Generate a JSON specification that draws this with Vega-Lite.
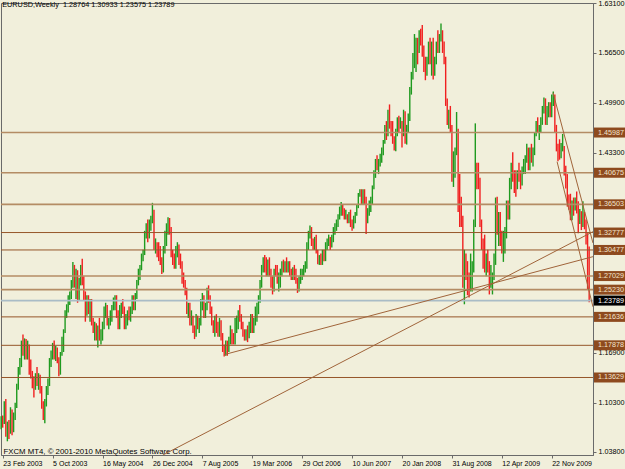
{
"$schema":"https://vega.github.io/schema/vega-lite/v6.json",
"width":592,"height":452,
"autosize":"none",
"padding":{"left":1,"top":3,"right":32,"bottom":14},
"background":"#f1efdb",
"config":{"view":{"stroke":"#6a6a6a","strokeWidth":1},"font":"Liberation Sans",
 "axis":{"domainColor":"#6a6a6a","tickColor":"#6a6a6a","labelColor":"#000000","labelFont":"Liberation Sans","labelFontSize":7.2,"grid":false}},
"title":{"text":"EURUSD,Weekly\u00a0 1.28764 1.30933 1.23575 1.23789","anchor":"start","orient":"top","offset":-9,"dx":2,"fontSize":7.3,"fontWeight":"normal","font":"Liberation Sans","color":"#000000"},
"datasets":{
"bars":[
{"d":"2003-02-16","o":1.077,"h":1.085,"l":1.068,"c":1.081},
{"d":"2003-02-23","o":1.081,"h":1.086,"l":1.070,"c":1.078},
{"d":"2003-03-02","o":1.078,"h":1.105,"l":1.075,"c":1.100},
{"d":"2003-03-09","o":1.100,"h":1.108,"l":1.058,"c":1.062},
{"d":"2003-03-16","o":1.062,"h":1.078,"l":1.052,"c":1.072},
{"d":"2003-03-23","o":1.072,"h":1.080,"l":1.055,"c":1.066},
{"d":"2003-03-30","o":1.066,"h":1.097,"l":1.062,"c":1.088},
{"d":"2003-04-06","o":1.088,"h":1.094,"l":1.060,"c":1.068},
{"d":"2003-04-13","o":1.068,"h":1.090,"l":1.064,"c":1.086},
{"d":"2003-04-20","o":1.086,"h":1.103,"l":1.080,"c":1.100},
{"d":"2003-04-27","o":1.100,"h":1.128,"l":1.096,"c":1.124},
{"d":"2003-05-04","o":1.124,"h":1.150,"l":1.120,"c":1.146},
{"d":"2003-05-11","o":1.146,"h":1.162,"l":1.140,"c":1.156},
{"d":"2003-05-18","o":1.156,"h":1.185,"l":1.150,"c":1.180},
{"d":"2003-05-25","o":1.180,"h":1.193,"l":1.165,"c":1.170},
{"d":"2003-06-01","o":1.170,"h":1.188,"l":1.160,"c":1.182},
{"d":"2003-06-08","o":1.182,"h":1.187,"l":1.160,"c":1.165},
{"d":"2003-06-15","o":1.165,"h":1.185,"l":1.160,"c":1.178},
{"d":"2003-06-22","o":1.178,"h":1.180,"l":1.140,"c":1.145},
{"d":"2003-06-29","o":1.145,"h":1.160,"l":1.135,"c":1.142},
{"d":"2003-07-06","o":1.142,"h":1.145,"l":1.122,"c":1.128},
{"d":"2003-07-13","o":1.128,"h":1.138,"l":1.110,"c":1.124},
{"d":"2003-07-20","o":1.124,"h":1.142,"l":1.120,"c":1.135},
{"d":"2003-07-27","o":1.135,"h":1.150,"l":1.125,"c":1.130},
{"d":"2003-08-03","o":1.130,"h":1.142,"l":1.120,"c":1.138},
{"d":"2003-08-10","o":1.138,"h":1.140,"l":1.115,"c":1.120},
{"d":"2003-08-17","o":1.120,"h":1.125,"l":1.095,"c":1.100},
{"d":"2003-08-24","o":1.100,"h":1.105,"l":1.080,"c":1.085},
{"d":"2003-08-31","o":1.085,"h":1.108,"l":1.076,"c":1.102},
{"d":"2003-09-07","o":1.102,"h":1.125,"l":1.098,"c":1.120},
{"d":"2003-09-14","o":1.120,"h":1.135,"l":1.113,"c":1.130},
{"d":"2003-09-21","o":1.130,"h":1.162,"l":1.125,"c":1.155},
{"d":"2003-09-28","o":1.155,"h":1.172,"l":1.150,"c":1.168},
{"d":"2003-10-05","o":1.168,"h":1.182,"l":1.160,"c":1.176},
{"d":"2003-10-12","o":1.176,"h":1.185,"l":1.160,"c":1.165},
{"d":"2003-10-19","o":1.165,"h":1.178,"l":1.158,"c":1.172},
{"d":"2003-10-26","o":1.172,"h":1.176,"l":1.155,"c":1.160},
{"d":"2003-11-02","o":1.160,"h":1.163,"l":1.138,"c":1.145},
{"d":"2003-11-09","o":1.145,"h":1.170,"l":1.140,"c":1.168},
{"d":"2003-11-16","o":1.168,"h":1.190,"l":1.165,"c":1.185},
{"d":"2003-11-23","o":1.185,"h":1.200,"l":1.170,"c":1.198},
{"d":"2003-11-30","o":1.198,"h":1.225,"l":1.195,"c":1.220},
{"d":"2003-12-07","o":1.220,"h":1.233,"l":1.215,"c":1.230},
{"d":"2003-12-14","o":1.230,"h":1.245,"l":1.222,"c":1.240},
{"d":"2003-12-21","o":1.240,"h":1.250,"l":1.232,"c":1.245},
{"d":"2003-12-28","o":1.245,"h":1.265,"l":1.240,"c":1.260},
{"d":"2004-01-04","o":1.260,"h":1.289,"l":1.255,"c":1.275},
{"d":"2004-01-11","o":1.275,"h":1.285,"l":1.255,"c":1.262},
{"d":"2004-01-18","o":1.262,"h":1.280,"l":1.240,"c":1.270},
{"d":"2004-01-25","o":1.270,"h":1.278,"l":1.235,"c":1.242},
{"d":"2004-02-01","o":1.242,"h":1.268,"l":1.238,"c":1.262},
{"d":"2004-02-08","o":1.262,"h":1.285,"l":1.258,"c":1.280},
{"d":"2004-02-15","o":1.280,"h":1.293,"l":1.258,"c":1.265},
{"d":"2004-02-22","o":1.265,"h":1.270,"l":1.238,"c":1.245},
{"d":"2004-02-29","o":1.245,"h":1.250,"l":1.210,"c":1.220},
{"d":"2004-03-07","o":1.220,"h":1.245,"l":1.218,"c":1.235},
{"d":"2004-03-14","o":1.235,"h":1.245,"l":1.220,"c":1.228},
{"d":"2004-03-21","o":1.228,"h":1.240,"l":1.210,"c":1.235},
{"d":"2004-03-28","o":1.235,"h":1.240,"l":1.205,"c":1.210},
{"d":"2004-04-04","o":1.210,"h":1.215,"l":1.195,"c":1.200},
{"d":"2004-04-11","o":1.200,"h":1.210,"l":1.185,"c":1.205},
{"d":"2004-04-18","o":1.205,"h":1.208,"l":1.185,"c":1.190},
{"d":"2004-04-25","o":1.190,"h":1.205,"l":1.176,"c":1.198},
{"d":"2004-05-02","o":1.198,"h":1.215,"l":1.185,"c":1.190},
{"d":"2004-05-09","o":1.190,"h":1.200,"l":1.180,"c":1.195},
{"d":"2004-05-16","o":1.195,"h":1.210,"l":1.185,"c":1.205},
{"d":"2004-05-23","o":1.205,"h":1.230,"l":1.200,"c":1.225},
{"d":"2004-05-30","o":1.225,"h":1.235,"l":1.215,"c":1.230},
{"d":"2004-06-06","o":1.230,"h":1.232,"l":1.205,"c":1.210},
{"d":"2004-06-13","o":1.210,"h":1.215,"l":1.200,"c":1.212},
{"d":"2004-06-20","o":1.212,"h":1.225,"l":1.205,"c":1.215},
{"d":"2004-06-27","o":1.215,"h":1.232,"l":1.210,"c":1.228},
{"d":"2004-07-04","o":1.228,"h":1.242,"l":1.225,"c":1.235},
{"d":"2004-07-11","o":1.235,"h":1.245,"l":1.225,"c":1.240},
{"d":"2004-07-18","o":1.240,"h":1.245,"l":1.215,"c":1.220},
{"d":"2004-07-25","o":1.220,"h":1.225,"l":1.200,"c":1.205},
{"d":"2004-08-01","o":1.205,"h":1.232,"l":1.200,"c":1.228},
{"d":"2004-08-08","o":1.228,"h":1.235,"l":1.215,"c":1.230},
{"d":"2004-08-15","o":1.230,"h":1.240,"l":1.220,"c":1.225},
{"d":"2004-08-22","o":1.225,"h":1.230,"l":1.200,"c":1.205},
{"d":"2004-08-29","o":1.205,"h":1.220,"l":1.200,"c":1.215},
{"d":"2004-09-05","o":1.215,"h":1.225,"l":1.205,"c":1.220},
{"d":"2004-09-12","o":1.220,"h":1.230,"l":1.212,"c":1.215},
{"d":"2004-09-19","o":1.215,"h":1.230,"l":1.210,"c":1.225},
{"d":"2004-09-26","o":1.225,"h":1.245,"l":1.220,"c":1.240},
{"d":"2004-10-03","o":1.240,"h":1.245,"l":1.225,"c":1.230},
{"d":"2004-10-10","o":1.230,"h":1.248,"l":1.225,"c":1.245},
{"d":"2004-10-17","o":1.245,"h":1.265,"l":1.240,"c":1.262},
{"d":"2004-10-24","o":1.262,"h":1.280,"l":1.258,"c":1.275},
{"d":"2004-10-31","o":1.275,"h":1.285,"l":1.265,"c":1.282},
{"d":"2004-11-07","o":1.282,"h":1.300,"l":1.278,"c":1.295},
{"d":"2004-11-14","o":1.295,"h":1.305,"l":1.290,"c":1.300},
{"d":"2004-11-21","o":1.300,"h":1.330,"l":1.298,"c":1.325},
{"d":"2004-11-28","o":1.325,"h":1.340,"l":1.320,"c":1.335},
{"d":"2004-12-05","o":1.335,"h":1.345,"l":1.315,"c":1.325},
{"d":"2004-12-12","o":1.325,"h":1.345,"l":1.320,"c":1.340},
{"d":"2004-12-19","o":1.340,"h":1.350,"l":1.330,"c":1.345},
{"d":"2004-12-26","o":1.345,"h":1.367,"l":1.340,"c":1.355},
{"d":"2005-01-02","o":1.355,"h":1.358,"l":1.305,"c":1.310},
{"d":"2005-01-09","o":1.310,"h":1.320,"l":1.300,"c":1.310},
{"d":"2005-01-16","o":1.310,"h":1.315,"l":1.295,"c":1.305},
{"d":"2005-01-23","o":1.305,"h":1.315,"l":1.290,"c":1.302},
{"d":"2005-01-30","o":1.302,"h":1.310,"l":1.285,"c":1.290},
{"d":"2005-02-06","o":1.290,"h":1.295,"l":1.273,"c":1.278},
{"d":"2005-02-13","o":1.278,"h":1.310,"l":1.275,"c":1.305},
{"d":"2005-02-20","o":1.305,"h":1.330,"l":1.300,"c":1.325},
{"d":"2005-02-27","o":1.325,"h":1.340,"l":1.310,"c":1.335},
{"d":"2005-03-06","o":1.335,"h":1.348,"l":1.325,"c":1.340},
{"d":"2005-03-13","o":1.340,"h":1.347,"l":1.325,"c":1.330},
{"d":"2005-03-20","o":1.330,"h":1.335,"l":1.295,"c":1.300},
{"d":"2005-03-27","o":1.300,"h":1.305,"l":1.285,"c":1.295},
{"d":"2005-04-03","o":1.295,"h":1.300,"l":1.280,"c":1.285},
{"d":"2005-04-10","o":1.285,"h":1.310,"l":1.280,"c":1.305},
{"d":"2005-04-17","o":1.305,"h":1.315,"l":1.295,"c":1.310},
{"d":"2005-04-24","o":1.310,"h":1.312,"l":1.285,"c":1.290},
{"d":"2005-05-01","o":1.290,"h":1.300,"l":1.280,"c":1.285},
{"d":"2005-05-08","o":1.285,"h":1.290,"l":1.260,"c":1.265},
{"d":"2005-05-15","o":1.265,"h":1.275,"l":1.255,"c":1.260},
{"d":"2005-05-22","o":1.260,"h":1.265,"l":1.245,"c":1.250},
{"d":"2005-05-29","o":1.250,"h":1.255,"l":1.220,"c":1.225},
{"d":"2005-06-05","o":1.225,"h":1.235,"l":1.215,"c":1.230},
{"d":"2005-06-12","o":1.230,"h":1.235,"l":1.205,"c":1.210},
{"d":"2005-06-19","o":1.210,"h":1.225,"l":1.205,"c":1.215},
{"d":"2005-06-26","o":1.215,"h":1.218,"l":1.195,"c":1.200},
{"d":"2005-07-03","o":1.200,"h":1.205,"l":1.187,"c":1.192},
{"d":"2005-07-10","o":1.192,"h":1.220,"l":1.190,"c":1.215},
{"d":"2005-07-17","o":1.215,"h":1.218,"l":1.200,"c":1.205},
{"d":"2005-07-24","o":1.205,"h":1.215,"l":1.195,"c":1.210},
{"d":"2005-07-31","o":1.210,"h":1.240,"l":1.205,"c":1.235},
{"d":"2005-08-07","o":1.235,"h":1.248,"l":1.225,"c":1.240},
{"d":"2005-08-14","o":1.240,"h":1.245,"l":1.215,"c":1.220},
{"d":"2005-08-21","o":1.220,"h":1.235,"l":1.215,"c":1.230},
{"d":"2005-08-28","o":1.230,"h":1.255,"l":1.225,"c":1.245},
{"d":"2005-09-04","o":1.245,"h":1.258,"l":1.235,"c":1.240},
{"d":"2005-09-11","o":1.240,"h":1.245,"l":1.220,"c":1.225},
{"d":"2005-09-18","o":1.225,"h":1.230,"l":1.205,"c":1.210},
{"d":"2005-09-25","o":1.210,"h":1.212,"l":1.195,"c":1.200},
{"d":"2005-10-02","o":1.200,"h":1.218,"l":1.190,"c":1.215},
{"d":"2005-10-09","o":1.215,"h":1.220,"l":1.195,"c":1.205},
{"d":"2005-10-16","o":1.205,"h":1.210,"l":1.190,"c":1.195},
{"d":"2005-10-23","o":1.195,"h":1.215,"l":1.190,"c":1.210},
{"d":"2005-10-30","o":1.210,"h":1.212,"l":1.185,"c":1.190},
{"d":"2005-11-06","o":1.190,"h":1.195,"l":1.170,"c":1.175},
{"d":"2005-11-13","o":1.175,"h":1.180,"l":1.164,"c":1.170},
{"d":"2005-11-20","o":1.170,"h":1.185,"l":1.165,"c":1.180},
{"d":"2005-11-27","o":1.180,"h":1.185,"l":1.165,"c":1.175},
{"d":"2005-12-04","o":1.175,"h":1.190,"l":1.170,"c":1.185},
{"d":"2005-12-11","o":1.185,"h":1.205,"l":1.180,"c":1.198},
{"d":"2005-12-18","o":1.198,"h":1.200,"l":1.180,"c":1.190},
{"d":"2005-12-25","o":1.190,"h":1.195,"l":1.180,"c":1.185},
{"d":"2006-01-01","o":1.185,"h":1.215,"l":1.180,"c":1.210},
{"d":"2006-01-08","o":1.210,"h":1.218,"l":1.195,"c":1.210},
{"d":"2006-01-15","o":1.210,"h":1.225,"l":1.200,"c":1.220},
{"d":"2006-01-22","o":1.220,"h":1.232,"l":1.210,"c":1.215},
{"d":"2006-01-29","o":1.215,"h":1.220,"l":1.200,"c":1.205},
{"d":"2006-02-05","o":1.205,"h":1.210,"l":1.190,"c":1.195},
{"d":"2006-02-12","o":1.195,"h":1.200,"l":1.185,"c":1.190},
{"d":"2006-02-19","o":1.190,"h":1.200,"l":1.185,"c":1.195},
{"d":"2006-02-26","o":1.195,"h":1.205,"l":1.183,"c":1.190},
{"d":"2006-03-05","o":1.190,"h":1.210,"l":1.188,"c":1.200},
{"d":"2006-03-12","o":1.200,"h":1.220,"l":1.195,"c":1.218},
{"d":"2006-03-19","o":1.218,"h":1.220,"l":1.195,"c":1.200},
{"d":"2006-03-26","o":1.200,"h":1.215,"l":1.195,"c":1.210},
{"d":"2006-04-02","o":1.210,"h":1.230,"l":1.205,"c":1.225},
{"d":"2006-04-09","o":1.225,"h":1.235,"l":1.210,"c":1.225},
{"d":"2006-04-16","o":1.225,"h":1.245,"l":1.220,"c":1.240},
{"d":"2006-04-23","o":1.240,"h":1.265,"l":1.235,"c":1.260},
{"d":"2006-04-30","o":1.260,"h":1.285,"l":1.255,"c":1.280},
{"d":"2006-05-07","o":1.280,"h":1.295,"l":1.275,"c":1.290},
{"d":"2006-05-14","o":1.290,"h":1.298,"l":1.275,"c":1.285},
{"d":"2006-05-21","o":1.285,"h":1.295,"l":1.270,"c":1.280},
{"d":"2006-05-28","o":1.280,"h":1.292,"l":1.270,"c":1.290},
{"d":"2006-06-04","o":1.290,"h":1.295,"l":1.270,"c":1.275},
{"d":"2006-06-11","o":1.275,"h":1.280,"l":1.255,"c":1.265},
{"d":"2006-06-18","o":1.265,"h":1.270,"l":1.246,"c":1.255},
{"d":"2006-06-25","o":1.255,"h":1.280,"l":1.250,"c":1.278},
{"d":"2006-07-02","o":1.278,"h":1.285,"l":1.270,"c":1.275},
{"d":"2006-07-09","o":1.275,"h":1.285,"l":1.260,"c":1.265},
{"d":"2006-07-16","o":1.265,"h":1.275,"l":1.250,"c":1.265},
{"d":"2006-07-23","o":1.265,"h":1.280,"l":1.255,"c":1.275},
{"d":"2006-07-30","o":1.275,"h":1.290,"l":1.270,"c":1.285},
{"d":"2006-08-06","o":1.285,"h":1.292,"l":1.275,"c":1.280},
{"d":"2006-08-13","o":1.280,"h":1.290,"l":1.275,"c":1.285},
{"d":"2006-08-20","o":1.285,"h":1.295,"l":1.275,"c":1.280},
{"d":"2006-08-27","o":1.280,"h":1.290,"l":1.275,"c":1.285},
{"d":"2006-09-03","o":1.285,"h":1.290,"l":1.270,"c":1.275},
{"d":"2006-09-10","o":1.275,"h":1.280,"l":1.265,"c":1.270},
{"d":"2006-09-17","o":1.270,"h":1.282,"l":1.265,"c":1.280},
{"d":"2006-09-24","o":1.280,"h":1.285,"l":1.265,"c":1.270},
{"d":"2006-10-01","o":1.270,"h":1.280,"l":1.260,"c":1.265},
{"d":"2006-10-08","o":1.265,"h":1.268,"l":1.248,"c":1.255},
{"d":"2006-10-15","o":1.255,"h":1.270,"l":1.250,"c":1.265},
{"d":"2006-10-22","o":1.265,"h":1.280,"l":1.260,"c":1.275},
{"d":"2006-10-29","o":1.275,"h":1.280,"l":1.265,"c":1.275},
{"d":"2006-11-05","o":1.275,"h":1.285,"l":1.270,"c":1.280},
{"d":"2006-11-12","o":1.280,"h":1.290,"l":1.275,"c":1.285},
{"d":"2006-11-19","o":1.285,"h":1.315,"l":1.280,"c":1.310},
{"d":"2006-11-26","o":1.310,"h":1.330,"l":1.305,"c":1.325},
{"d":"2006-12-03","o":1.325,"h":1.337,"l":1.320,"c":1.330},
{"d":"2006-12-10","o":1.330,"h":1.335,"l":1.310,"c":1.315},
{"d":"2006-12-17","o":1.315,"h":1.320,"l":1.305,"c":1.310},
{"d":"2006-12-24","o":1.310,"h":1.322,"l":1.305,"c":1.320},
{"d":"2006-12-31","o":1.320,"h":1.325,"l":1.300,"c":1.300},
{"d":"2007-01-07","o":1.300,"h":1.305,"l":1.286,"c":1.290},
{"d":"2007-01-14","o":1.290,"h":1.298,"l":1.285,"c":1.295},
{"d":"2007-01-21","o":1.295,"h":1.300,"l":1.285,"c":1.290},
{"d":"2007-01-28","o":1.290,"h":1.305,"l":1.285,"c":1.300},
{"d":"2007-02-04","o":1.300,"h":1.305,"l":1.290,"c":1.295},
{"d":"2007-02-11","o":1.295,"h":1.315,"l":1.290,"c":1.312},
{"d":"2007-02-18","o":1.312,"h":1.320,"l":1.305,"c":1.315},
{"d":"2007-02-25","o":1.315,"h":1.325,"l":1.310,"c":1.320},
{"d":"2007-03-04","o":1.320,"h":1.322,"l":1.305,"c":1.310},
{"d":"2007-03-11","o":1.310,"h":1.325,"l":1.308,"c":1.320},
{"d":"2007-03-18","o":1.320,"h":1.335,"l":1.315,"c":1.330},
{"d":"2007-03-25","o":1.330,"h":1.340,"l":1.325,"c":1.335},
{"d":"2007-04-01","o":1.335,"h":1.345,"l":1.330,"c":1.340},
{"d":"2007-04-08","o":1.340,"h":1.352,"l":1.335,"c":1.350},
{"d":"2007-04-15","o":1.350,"h":1.362,"l":1.345,"c":1.360},
{"d":"2007-04-22","o":1.360,"h":1.368,"l":1.350,"c":1.360},
{"d":"2007-04-29","o":1.360,"h":1.365,"l":1.350,"c":1.352},
{"d":"2007-05-06","o":1.352,"h":1.360,"l":1.345,"c":1.350},
{"d":"2007-05-13","o":1.350,"h":1.358,"l":1.345,"c":1.350},
{"d":"2007-05-20","o":1.350,"h":1.352,"l":1.340,"c":1.345},
{"d":"2007-05-27","o":1.345,"h":1.355,"l":1.340,"c":1.350},
{"d":"2007-06-03","o":1.350,"h":1.358,"l":1.335,"c":1.340},
{"d":"2007-06-10","o":1.340,"h":1.345,"l":1.330,"c":1.335},
{"d":"2007-06-17","o":1.335,"h":1.350,"l":1.333,"c":1.345},
{"d":"2007-06-24","o":1.345,"h":1.355,"l":1.340,"c":1.352},
{"d":"2007-07-01","o":1.352,"h":1.365,"l":1.350,"c":1.362},
{"d":"2007-07-08","o":1.362,"h":1.380,"l":1.360,"c":1.378},
{"d":"2007-07-15","o":1.378,"h":1.385,"l":1.375,"c":1.380},
{"d":"2007-07-22","o":1.380,"h":1.385,"l":1.365,"c":1.370},
{"d":"2007-07-29","o":1.370,"h":1.385,"l":1.365,"c":1.380},
{"d":"2007-08-05","o":1.380,"h":1.385,"l":1.365,"c":1.370},
{"d":"2007-08-12","o":1.370,"h":1.375,"l":1.326,"c":1.345},
{"d":"2007-08-19","o":1.345,"h":1.360,"l":1.340,"c":1.355},
{"d":"2007-08-26","o":1.355,"h":1.370,"l":1.350,"c":1.365},
{"d":"2007-09-02","o":1.365,"h":1.375,"l":1.355,"c":1.370},
{"d":"2007-09-09","o":1.370,"h":1.390,"l":1.365,"c":1.388},
{"d":"2007-09-16","o":1.388,"h":1.410,"l":1.385,"c":1.405},
{"d":"2007-09-23","o":1.405,"h":1.425,"l":1.400,"c":1.420},
{"d":"2007-09-30","o":1.420,"h":1.430,"l":1.410,"c":1.415},
{"d":"2007-10-07","o":1.415,"h":1.425,"l":1.405,"c":1.420},
{"d":"2007-10-14","o":1.420,"h":1.432,"l":1.415,"c":1.425},
{"d":"2007-10-21","o":1.425,"h":1.440,"l":1.420,"c":1.435},
{"d":"2007-10-28","o":1.435,"h":1.450,"l":1.430,"c":1.448},
{"d":"2007-11-04","o":1.448,"h":1.470,"l":1.445,"c":1.465},
{"d":"2007-11-11","o":1.465,"h":1.475,"l":1.450,"c":1.460},
{"d":"2007-11-18","o":1.460,"h":1.490,"l":1.455,"c":1.482},
{"d":"2007-11-25","o":1.482,"h":1.497,"l":1.465,"c":1.470},
{"d":"2007-12-02","o":1.470,"h":1.475,"l":1.455,"c":1.465},
{"d":"2007-12-09","o":1.465,"h":1.475,"l":1.445,"c":1.450},
{"d":"2007-12-16","o":1.450,"h":1.455,"l":1.436,"c":1.440},
{"d":"2007-12-23","o":1.440,"h":1.465,"l":1.435,"c":1.460},
{"d":"2007-12-30","o":1.460,"h":1.480,"l":1.455,"c":1.475},
{"d":"2008-01-06","o":1.475,"h":1.482,"l":1.460,"c":1.470},
{"d":"2008-01-13","o":1.470,"h":1.480,"l":1.465,"c":1.470},
{"d":"2008-01-20","o":1.470,"h":1.475,"l":1.440,"c":1.460},
{"d":"2008-01-27","o":1.460,"h":1.490,"l":1.455,"c":1.485},
{"d":"2008-02-03","o":1.485,"h":1.488,"l":1.445,"c":1.450},
{"d":"2008-02-10","o":1.450,"h":1.470,"l":1.444,"c":1.465},
{"d":"2008-02-17","o":1.465,"h":1.485,"l":1.460,"c":1.480},
{"d":"2008-02-24","o":1.480,"h":1.520,"l":1.475,"c":1.515},
{"d":"2008-03-02","o":1.515,"h":1.540,"l":1.510,"c":1.535},
{"d":"2008-03-09","o":1.535,"h":1.565,"l":1.530,"c":1.560},
{"d":"2008-03-16","o":1.560,"h":1.590,"l":1.545,"c":1.565},
{"d":"2008-03-23","o":1.565,"h":1.585,"l":1.540,"c":1.580},
{"d":"2008-03-30","o":1.580,"h":1.585,"l":1.550,"c":1.570},
{"d":"2008-04-06","o":1.570,"h":1.595,"l":1.565,"c":1.590},
{"d":"2008-04-13","o":1.590,"h":1.597,"l":1.575,"c":1.580},
{"d":"2008-04-20","o":1.580,"h":1.602,"l":1.560,"c":1.565},
{"d":"2008-04-27","o":1.565,"h":1.575,"l":1.540,"c":1.550},
{"d":"2008-05-04","o":1.550,"h":1.560,"l":1.529,"c":1.545},
{"d":"2008-05-11","o":1.545,"h":1.560,"l":1.535,"c":1.555},
{"d":"2008-05-18","o":1.555,"h":1.580,"l":1.550,"c":1.575},
{"d":"2008-05-25","o":1.575,"h":1.585,"l":1.550,"c":1.555},
{"d":"2008-06-01","o":1.555,"h":1.580,"l":1.535,"c":1.575},
{"d":"2008-06-08","o":1.575,"h":1.585,"l":1.530,"c":1.545},
{"d":"2008-06-15","o":1.545,"h":1.560,"l":1.535,"c":1.555},
{"d":"2008-06-22","o":1.555,"h":1.580,"l":1.550,"c":1.575},
{"d":"2008-06-29","o":1.575,"h":1.595,"l":1.565,"c":1.570},
{"d":"2008-07-06","o":1.570,"h":1.590,"l":1.565,"c":1.585},
{"d":"2008-07-13","o":1.585,"h":1.604,"l":1.580,"c":1.590},
{"d":"2008-07-20","o":1.590,"h":1.595,"l":1.565,"c":1.570},
{"d":"2008-07-27","o":1.570,"h":1.580,"l":1.550,"c":1.555},
{"d":"2008-08-03","o":1.555,"h":1.560,"l":1.495,"c":1.500},
{"d":"2008-08-10","o":1.500,"h":1.505,"l":1.470,"c":1.475},
{"d":"2008-08-17","o":1.475,"h":1.490,"l":1.465,"c":1.485},
{"d":"2008-08-24","o":1.485,"h":1.495,"l":1.460,"c":1.465},
{"d":"2008-08-31","o":1.465,"h":1.470,"l":1.395,"c":1.400},
{"d":"2008-09-07","o":1.400,"h":1.435,"l":1.388,"c":1.430},
{"d":"2008-09-14","o":1.430,"h":1.440,"l":1.400,"c":1.435},
{"d":"2008-09-21","o":1.435,"h":1.487,"l":1.430,"c":1.460},
{"d":"2008-09-28","o":1.460,"h":1.465,"l":1.355,"c":1.360},
{"d":"2008-10-05","o":1.360,"h":1.405,"l":1.335,"c":1.345},
{"d":"2008-10-12","o":1.345,"h":1.375,"l":1.335,"c":1.340},
{"d":"2008-10-19","o":1.340,"h":1.350,"l":1.255,"c":1.265},
{"d":"2008-10-26","o":1.265,"h":1.305,"l":1.233,"c":1.275},
{"d":"2008-11-02","o":1.275,"h":1.300,"l":1.265,"c":1.270},
{"d":"2008-11-09","o":1.270,"h":1.290,"l":1.245,"c":1.260},
{"d":"2008-11-16","o":1.260,"h":1.275,"l":1.242,"c":1.255},
{"d":"2008-11-23","o":1.255,"h":1.300,"l":1.250,"c":1.270},
{"d":"2008-11-30","o":1.270,"h":1.290,"l":1.250,"c":1.280},
{"d":"2008-12-07","o":1.280,"h":1.345,"l":1.275,"c":1.340},
{"d":"2008-12-14","o":1.340,"h":1.472,"l":1.335,"c":1.410},
{"d":"2008-12-21","o":1.410,"h":1.420,"l":1.385,"c":1.400},
{"d":"2008-12-28","o":1.400,"h":1.420,"l":1.385,"c":1.395},
{"d":"2009-01-04","o":1.395,"h":1.400,"l":1.335,"c":1.340},
{"d":"2009-01-11","o":1.340,"h":1.345,"l":1.305,"c":1.310},
{"d":"2009-01-18","o":1.310,"h":1.320,"l":1.280,"c":1.295},
{"d":"2009-01-25","o":1.295,"h":1.325,"l":1.275,"c":1.280},
{"d":"2009-02-01","o":1.280,"h":1.300,"l":1.270,"c":1.290},
{"d":"2009-02-08","o":1.290,"h":1.305,"l":1.275,"c":1.285},
{"d":"2009-02-15","o":1.285,"h":1.290,"l":1.246,"c":1.265},
{"d":"2009-02-22","o":1.265,"h":1.285,"l":1.255,"c":1.265},
{"d":"2009-03-01","o":1.265,"h":1.275,"l":1.246,"c":1.270},
{"d":"2009-03-08","o":1.270,"h":1.300,"l":1.265,"c":1.290},
{"d":"2009-03-15","o":1.290,"h":1.374,"l":1.285,"c":1.370},
{"d":"2009-03-22","o":1.370,"h":1.375,"l":1.325,"c":1.330},
{"d":"2009-03-29","o":1.330,"h":1.355,"l":1.310,"c":1.350},
{"d":"2009-04-05","o":1.350,"h":1.355,"l":1.310,"c":1.315},
{"d":"2009-04-12","o":1.315,"h":1.330,"l":1.300,"c":1.305},
{"d":"2009-04-19","o":1.305,"h":1.330,"l":1.289,"c":1.325},
{"d":"2009-04-26","o":1.325,"h":1.335,"l":1.300,"c":1.325},
{"d":"2009-05-03","o":1.325,"h":1.370,"l":1.320,"c":1.365},
{"d":"2009-05-10","o":1.365,"h":1.370,"l":1.345,"c":1.350},
{"d":"2009-05-17","o":1.350,"h":1.400,"l":1.345,"c":1.390},
{"d":"2009-05-24","o":1.390,"h":1.420,"l":1.385,"c":1.410},
{"d":"2009-05-31","o":1.410,"h":1.434,"l":1.395,"c":1.400},
{"d":"2009-06-07","o":1.400,"h":1.410,"l":1.380,"c":1.395},
{"d":"2009-06-14","o":1.395,"h":1.410,"l":1.375,"c":1.390},
{"d":"2009-06-21","o":1.390,"h":1.410,"l":1.385,"c":1.405},
{"d":"2009-06-28","o":1.405,"h":1.420,"l":1.395,"c":1.400},
{"d":"2009-07-05","o":1.400,"h":1.410,"l":1.385,"c":1.395},
{"d":"2009-07-12","o":1.395,"h":1.415,"l":1.390,"c":1.410},
{"d":"2009-07-19","o":1.410,"h":1.425,"l":1.405,"c":1.420},
{"d":"2009-07-26","o":1.420,"h":1.430,"l":1.405,"c":1.425},
{"d":"2009-08-02","o":1.425,"h":1.445,"l":1.420,"c":1.430},
{"d":"2009-08-09","o":1.430,"h":1.440,"l":1.410,"c":1.420},
{"d":"2009-08-16","o":1.420,"h":1.440,"l":1.410,"c":1.435},
{"d":"2009-08-23","o":1.435,"h":1.445,"l":1.420,"c":1.430},
{"d":"2009-08-30","o":1.430,"h":1.440,"l":1.415,"c":1.435},
{"d":"2009-09-06","o":1.435,"h":1.460,"l":1.430,"c":1.458},
{"d":"2009-09-13","o":1.458,"h":1.475,"l":1.455,"c":1.470},
{"d":"2009-09-20","o":1.470,"h":1.480,"l":1.460,"c":1.465},
{"d":"2009-09-27","o":1.465,"h":1.470,"l":1.450,"c":1.465},
{"d":"2009-10-04","o":1.465,"h":1.480,"l":1.460,"c":1.475},
{"d":"2009-10-11","o":1.475,"h":1.495,"l":1.470,"c":1.490},
{"d":"2009-10-18","o":1.490,"h":1.506,"l":1.485,"c":1.500},
{"d":"2009-10-25","o":1.500,"h":1.505,"l":1.470,"c":1.475},
{"d":"2009-11-01","o":1.475,"h":1.495,"l":1.470,"c":1.490},
{"d":"2009-11-08","o":1.490,"h":1.500,"l":1.480,"c":1.490},
{"d":"2009-11-15","o":1.490,"h":1.500,"l":1.480,"c":1.485},
{"d":"2009-11-22","o":1.485,"h":1.510,"l":1.480,"c":1.500},
{"d":"2009-11-29","o":1.500,"h":1.514,"l":1.495,"c":1.505},
{"d":"2009-12-06","o":1.505,"h":1.510,"l":1.460,"c":1.465},
{"d":"2009-12-13","o":1.465,"h":1.470,"l":1.435,"c":1.440},
{"d":"2009-12-20","o":1.440,"h":1.445,"l":1.422,"c":1.435},
{"d":"2009-12-27","o":1.435,"h":1.451,"l":1.424,"c":1.432},
{"d":"2010-01-03","o":1.432,"h":1.446,"l":1.426,"c":1.440},
{"d":"2010-01-10","o":1.440,"h":1.458,"l":1.435,"c":1.440},
{"d":"2010-01-17","o":1.440,"h":1.442,"l":1.403,"c":1.410},
{"d":"2010-01-24","o":1.410,"h":1.416,"l":1.386,"c":1.395},
{"d":"2010-01-31","o":1.395,"h":1.405,"l":1.362,"c":1.370},
{"d":"2010-02-07","o":1.370,"h":1.378,"l":1.358,"c":1.365},
{"d":"2010-02-14","o":1.365,"h":1.379,"l":1.344,"c":1.355},
{"d":"2010-02-21","o":1.355,"h":1.370,"l":1.344,"c":1.362},
{"d":"2010-02-28","o":1.362,"h":1.374,"l":1.350,"c":1.360},
{"d":"2010-03-07","o":1.360,"h":1.374,"l":1.357,"c":1.370},
{"d":"2010-03-14","o":1.370,"h":1.382,"l":1.353,"c":1.355},
{"d":"2010-03-21","o":1.355,"h":1.369,"l":1.327,"c":1.340},
{"d":"2010-03-28","o":1.340,"h":1.359,"l":1.339,"c":1.350},
{"d":"2010-04-04","o":1.350,"h":1.356,"l":1.331,"c":1.335},
{"d":"2010-04-11","o":1.335,"h":1.369,"l":1.335,"c":1.350},
{"d":"2010-04-18","o":1.350,"h":1.355,"l":1.332,"c":1.335},
{"d":"2010-04-25","o":1.335,"h":1.345,"l":1.312,"c":1.320},
{"d":"2010-05-02","o":1.320,"h":1.327,"l":1.252,"c":1.276},
{"d":"2010-05-09","o":1.28764,"h":1.30933,"l":1.23575,"c":1.23789}
],
"levels":[
{"p":1.45987,"k":"minor"},
{"p":1.40675,"k":"minor"},
{"p":1.36503,"k":"minor"},
{"p":1.32777,"k":"major"},
{"p":1.30477,"k":"major"},
{"p":1.27029,"k":"minor"},
{"p":1.25230,"k":"minor"},
{"p":1.21636,"k":"major"},
{"p":1.17878,"k":"major"},
{"p":1.13629,"k":"major"},
{"p":1.23789,"k":"current"}
],
"trends":[
{"id":"a","d":"2005-11-13","p":1.1665},
{"id":"a","d":"2010-05-26","p":1.2959},
{"id":"b","d":"2005-02-11","p":1.0339},
{"id":"b","d":"2010-05-26","p":1.3289},
{"id":"c","d":"2009-11-28","p":1.5125},
{"id":"c","d":"2010-05-26","p":1.314},
{"id":"e","d":"2009-12-16","p":1.4214},
{"id":"e","d":"2010-05-26","p":1.2297}
]
},
"layer":[
{
 "data":{"name":"bars"},
 "mark":{"type":"rule","strokeWidth":1.4},
 "encoding":{
  "x":{"field":"d","type":"temporal","scale":{"type":"utc","domain":[{"year":2003,"month":2,"date":15,"hours":9,"utc":true},{"year":2010,"month":5,"date":26,"hours":5,"utc":true}]},
   "axis":{"values":[{"year":2003,"month":2,"date":23,"utc":true},{"year":2003,"month":10,"date":5,"utc":true},{"year":2004,"month":5,"date":16,"utc":true},{"year":2004,"month":12,"date":26,"utc":true},{"year":2005,"month":8,"date":7,"utc":true},{"year":2006,"month":3,"date":19,"utc":true},{"year":2006,"month":10,"date":29,"utc":true},{"year":2007,"month":6,"date":10,"utc":true},{"year":2008,"month":1,"date":20,"utc":true},{"year":2008,"month":8,"date":31,"utc":true},{"year":2009,"month":4,"date":12,"utc":true},{"year":2009,"month":11,"date":22,"utc":true}],
    "labelExpr":"utcFormat(datum.value, '%-d %b %Y')","labelAlign":"left","labelPadding":1,"tickSize":3,"labelFlush":false,"labelOverlap":false,"labelFontSize":7,
    "title":"FXCM MT4, © 2001-2010 MetaQuotes Software Corp.","titleX":2,"titleY":-2,"titleAlign":"left","titleAnchor":"start","titleBaseline":"alphabetic","titleFontSize":7.8,"titleFontWeight":"normal","titleColor":"#000000","titleFont":"Liberation Sans"}},
  "y":{"field":"l","type":"quantitative","scale":{"domain":[1.0339,1.631],"nice":false,"zero":false},
   "axis":{"orient":"right","values":[1.631,1.598,1.565,1.532,1.499,1.466,1.433,1.4,1.367,1.334,1.301,1.268,1.235,1.202,1.169,1.136,1.103,1.07,1.038],"format":".5f","tickSize":3,"labelPadding":2,"title":null,"labelBaseline":"middle","labelOverlap":false}},
  "y2":{"field":"h"},
  "color":{"condition":{"test":"datum.c>=datum.o","value":"#1f9a1f"},"value":"#f02020"}
 }
},
{
 "data":{"name":"levels"},
 "mark":{"type":"rule"},
 "encoding":{
  "y":{"field":"p","type":"quantitative"},
  "color":{"condition":[{"test":"datum.k=='current'","value":"#a9bcc6"},{"test":"datum.k=='minor'","value":"#b48c64"}],"value":"#95562a"},
  "strokeWidth":{"condition":{"test":"datum.k=='major'","value":1},"value":1.6}
 }
},
{
 "data":{"name":"trends"},
 "mark":{"type":"line","strokeWidth":1,"clip":true,"color":"#a0643a"},
 "encoding":{
  "x":{"field":"d","type":"temporal"},
  "y":{"field":"p","type":"quantitative"},
  "detail":{"field":"id"}
 }
},
{
 "data":{"name":"levels"},
 "mark":{"type":"rect","xOffset":1,"x2Offset":32,"yOffset":-5,"y2Offset":5},
 "encoding":{
  "x":{"value":"width"},
  "x2":{"value":"width"},
  "y":{"field":"p","type":"quantitative"},
  "y2":{"field":"p"},
  "color":{"condition":{"test":"datum.k=='current'","value":"#000000"},"value":"#8e4a1e"}
 }
},
{
 "data":{"name":"levels"},
 "mark":{"type":"text","align":"left","baseline":"middle","dx":5,"fontSize":7.2,"font":"Liberation Sans"},
 "encoding":{
  "x":{"value":"width"},
  "y":{"field":"p","type":"quantitative"},
  "text":{"field":"p","type":"quantitative","format":".5f"},
  "color":{"condition":{"test":"datum.k=='current'","value":"#ffffff"},"value":"#f3e6cf"}
 }
}
]
}
